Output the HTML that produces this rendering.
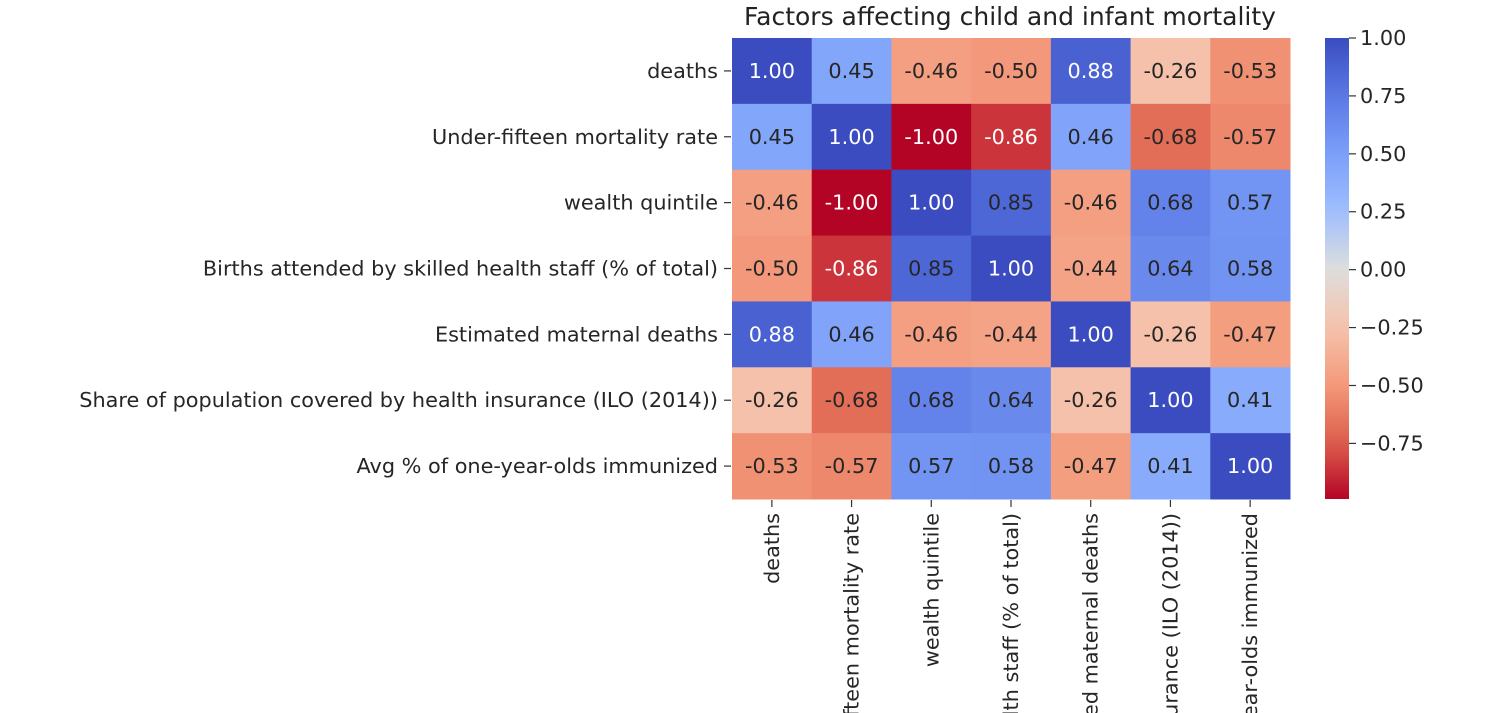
<!DOCTYPE html>
<html><head><meta charset="utf-8"><style>
html,body{margin:0;background:#fff;overflow:hidden;width:1497px;height:713px}
svg{display:block}
svg text{font-family:"DejaVu Sans","Liberation Sans",sans-serif}
</style></head><body>
<svg id="chart" width="1497" height="713" xmlns="http://www.w3.org/2000/svg">
<text x="1010" y="25" font-size="25" text-anchor="middle" fill="#222">Factors affecting child and infant mortality</text>
<g id="cells"></g><g id="ylab"></g><g id="xlab"></g>
<defs><linearGradient id="cbg" x1="0" y1="0" x2="0" y2="1"></linearGradient></defs>
<rect id="cbar" x="1325" y="38" width="24" height="461"/>
<g id="cbticks"></g>
</svg>
<script>
const labels=["deaths","Under-fifteen mortality rate","wealth quintile","Births attended by skilled health staff (% of total)","Estimated maternal deaths","Share of population covered by health insurance (ILO (2014))","Avg % of one-year-olds immunized"];
const row0=[1.00,0.45,-0.46,-0.50,0.88,-0.26,-0.53];
const row1=[0.45,1.00,-1.00,-0.86,0.46,-0.68,-0.57];
const row2=[-0.46,-1.00,1.00,0.85,-0.46,0.68,0.57];
const row3=[-0.50,-0.86,0.85,1.00,-0.44,0.64,0.58];
const row4=[0.88,0.46,-0.46,-0.44,1.00,-0.26,-0.47];
const row5=[-0.26,-0.68,0.68,0.64,-0.26,1.00,0.41];
const row6=[-0.53,-0.57,0.57,0.58,-0.47,0.41,1.00];
const cbTicks=[1.00,0.75,0.50,0.25,0.00,-0.25,-0.50,-0.75];
const rows=[row0,row1,row2,row3,row4,row5,row6];
const NS="http://www.w3.org/2000/svg";
const X0=732,X1=1290,Y0=38,Y1=499,vmax=1.0,vmin=-0.99;
const FS=20.8;
const cw=(X1-X0)/labels.length,ch=(Y1-Y0)/labels.length;
const stops=[[0,[59,76,192]],[0.125,[90,120,228]],[0.25,[123,159,249]],[0.375,[158,190,255]],[0.5,[221,221,221]],[0.625,[245,196,173]],[0.75,[244,154,123]],[0.875,[222,96,77]],[1,[180,4,38]]];
function cmap(v){let t=(vmax-v)/(vmax-vmin);t=Math.max(0,Math.min(1,t));
for(let i=1;i<stops.length;i++){if(t<=stops[i][0]){const a=stops[i-1],b=stops[i],f=(t-a[0])/(b[0]-a[0]);return a[1].map((c,k)=>Math.round(c+(b[1][k]-c)*f));}}return stops[8][1];}
function yv(v){return Y0+(vmax-v)/(vmax-vmin)*(Y1-Y0);}
function mk(tag,at,p){const e=document.createElementNS(NS,tag);for(const k in at)e.setAttribute(k,at[k]);p.appendChild(e);return e;}
const cells=document.getElementById('cells');
rows.forEach((r,i)=>r.forEach((v,j)=>{
 const c=cmap(v);
 const rc=mk('rect',{x:X0+j*cw,y:Y0+i*ch,width:cw+0.5,height:ch+0.5,fill:`rgb(${c})`},cells);
 
 
 const lum=(0.2126*c[0]+0.7152*c[1]+0.0722*c[2])/255;
 const t=mk('text',{x:X0+(j+0.5)*cw,y:Y0+(i+0.5)*ch+7,'font-size':FS,'text-anchor':'middle',fill:lum>0.408?'#262626':'#fff'},cells);
 t.textContent=v.toFixed(2);
 
 
}));
const yl=document.getElementById('ylab'),xl=document.getElementById('xlab');
labels.forEach((l,i)=>{
 const cy=Y0+(i+0.5)*ch;
 mk('line',{x1:724,x2:731,y1:cy,y2:cy,stroke:'#333','stroke-width':1.2},yl);
 const t=mk('text',{x:718,y:cy+7,'font-size':FS,'text-anchor':'end',fill:'#262626'},yl);
 t.textContent=l;
 
 
 const cx=X0+(i+0.5)*cw;
 mk('line',{x1:cx,x2:cx,y1:500,y2:507,stroke:'#333','stroke-width':1.2},xl);
 const u=mk('text',{x:0,y:0,'font-size':FS,'text-anchor':'end',fill:'#262626',transform:`translate(${cx+7},513) rotate(-90)`},xl);
 u.textContent=l;
 
 
});
const g=document.getElementById('cbg');
for(let k=0;k<=20;k++){const v=vmax-(vmax-vmin)*k/20;mk('stop',{offset:k/20,'stop-color':`rgb(${cmap(v)})`},g);}
document.getElementById('cbar').setAttribute('fill','url(#cbg)');
const cb=document.getElementById('cbticks');
cbTicks.forEach(v=>{const y=yv(v);
 mk('line',{x1:1349,x2:1356,y1:y,y2:y,stroke:'#333','stroke-width':1.2},cb);
 const t=mk('text',{x:1360,y:y+7,'font-size':FS,fill:'#262626'},cb);
 t.textContent=(v<0?'\u2212':'')+Math.abs(v).toFixed(2);
 
 
});
</script>
</body></html>
